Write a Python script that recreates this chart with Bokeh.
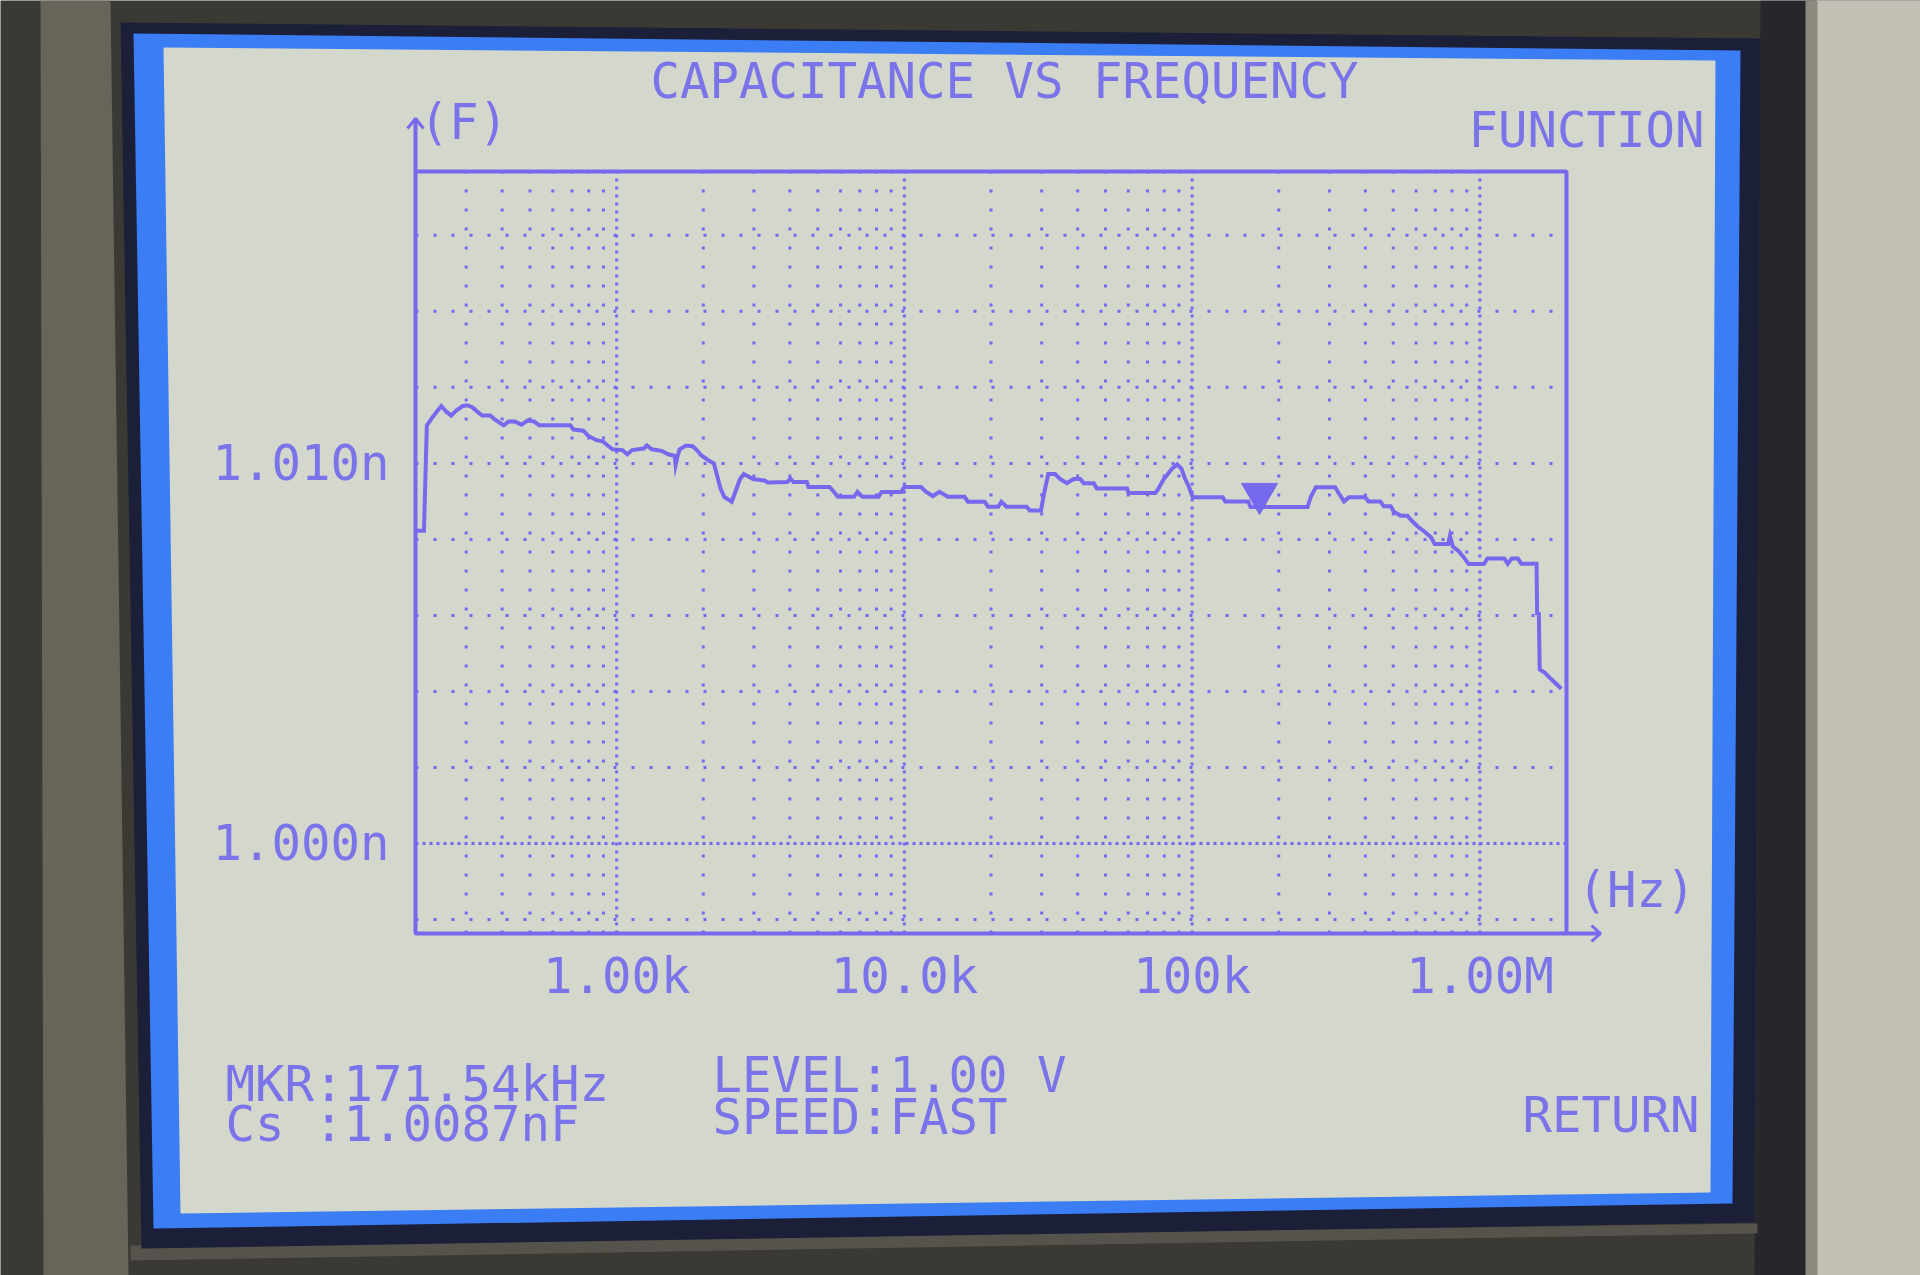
from bokeh.plotting import figure
from bokeh.models import Range1d, LinearScale
from bokeh.core.properties import value
from bokeh.embed import file_html
from bokeh.resources import INLINE

# ------------------------------------------------------------------ data
freq_hz = [200, 214, 219, 222, 228, 237, 246, 256, 266, 277,
           292, 303, 316, 328, 341, 364, 378, 405, 421, 443,
           467, 492, 518, 538, 690, 708, 766, 796, 851, 895,
           931, 968,
           1047, 1089, 1132, 1242, 1274, 1324, 1432, 1510, 1592, 1603,
           1629, 1656, 1742, 1837, 1910, 1963, 2094, 2178, 2234, 2296,
           2366, 2512, 2612, 2685, 2767, 2979, 3266, 3350,
           3917, 4018, 4121, 4581, 4645, 5495, 5649, 5875, 6683, 6871,
           7145, 8128, 8337, 9750,
           10000, 11430, 11910, 12560, 13240, 14160, 16180, 16630, 19010, 19540,
           21180, 21730, 22650, 26610, 27290, 29850, 30410, 31620, 33420, 34750,
           36730, 38730, 40830, 41980, 45500, 46670, 59430,
           60120, 74470, 76560, 79620, 85110, 88720, 91830, 94190, 97270,
           100500, 127600, 130300, 156700, 159600, 251800, 258800, 269200, 314100, 322800,
           337300, 350800, 399000, 410200, 450800, 463400, 489800, 502300, 530900, 559800,
           583400, 608100, 642700, 677500, 696600, 776200, 787000, 805400, 841400, 877000,
           914100,
           1033000, 1062000, 1216000, 1250000, 1291000, 1355000, 1393000, 1574000, 1581000, 1603000,
           1614000, 1683000, 1754000, 1828000, 1919000]

cap_nf = [1.00823, 1.00823, 1.01100, 1.01106, 1.01119, 1.01136, 1.01151, 1.01136, 1.01126, 1.01139,
          1.01151, 1.01153, 1.01147, 1.01136, 1.01126, 1.01126, 1.01115, 1.01100, 1.01110, 1.01110,
          1.01102, 1.01113, 1.01110, 1.01100, 1.01100, 1.01089, 1.01086, 1.01073, 1.01061, 1.01058,
          1.01047, 1.01037,
          1.01035, 1.01024, 1.01035, 1.01039, 1.01047, 1.01037, 1.01033, 1.01024, 1.01020, 1.00996,
          1.01020, 1.01037, 1.01047, 1.01045, 1.01033, 1.01022, 1.01007, 1.01000, 1.00968, 1.00934,
          1.00912, 1.00899, 1.00934, 1.00959, 1.00972, 1.00959, 1.00955, 1.00950,
          1.00951, 1.00960, 1.00951, 1.00951, 1.00938, 1.00938, 1.00928, 1.00912, 1.00912, 1.00925,
          1.00912, 1.00912, 1.00925, 1.00925,
          1.00938, 1.00938, 1.00925, 1.00914, 1.00925, 1.00912, 1.00912, 1.00899, 1.00899, 1.00886,
          1.00886, 1.00899, 1.00886, 1.00886, 1.00876, 1.00876, 1.00912, 1.00972, 1.00972, 1.00959,
          1.00948, 1.00959, 1.00959, 1.00948, 1.00948, 1.00934, 1.00934,
          1.00922, 1.00922, 1.00935, 1.00958, 1.00986, 1.00997, 1.00986, 1.00962, 1.00940,
          1.00911, 1.00911, 1.00900, 1.00900, 1.00885, 1.00885, 1.00913, 1.00937, 1.00937, 1.00922,
          1.00900, 1.00911, 1.00911, 1.00900, 1.00900, 1.00887, 1.00887, 1.00873, 1.00862, 1.00862,
          1.00847, 1.00834, 1.00820, 1.00805, 1.00788, 1.00788, 1.00809, 1.00781, 1.00770, 1.00754,
          1.00735,
          1.00735, 1.00750, 1.00750, 1.00736, 1.00750, 1.00750, 1.00736, 1.00736, 1.00605, 1.00604,
          1.00458, 1.00449, 1.00435, 1.00422, 1.00407]

marker_freq_hz = [171540]
marker_cs_nf = [1.0087]

x_min_hz, x_max_hz = 200, 2000000          # plot box extent
y_min_nf, y_max_nf = 0.99763, 1.01768

x_ticks = [1000, 10000, 100000, 1000000]
x_tick_labels = ["1.00k", "10.0k", "100k", "1.00M"]
x_minor_grid = [300, 400, 500, 600, 700, 800, 900,
                2000, 3000, 4000, 5000, 6000, 7000, 8000, 9000,
                20000, 30000, 40000, 50000, 60000, 70000, 80000, 90000,
                200000, 300000, 400000, 500000, 600000, 700000, 800000, 900000]
y_ticks = [1.000, 1.010]
y_tick_labels = ["1.000n", "1.010n"]
y_grid = [0.998, 1.002, 1.004, 1.006, 1.008, 1.010, 1.012, 1.014, 1.016]
y_grid_dense = [1.000]

title_text = "CAPACITANCE VS FREQUENCY"
y_unit_text = "(F)"
x_unit_text = "(Hz)"
function_text = "FUNCTION"
return_text = "RETURN"
mkr_text = "MKR:171.54kHz"
cs_text = "Cs :1.0087nF"
level_text = "LEVEL:1.00 V"
speed_text = "SPEED:FAST"

# ------------------------------------------------------------------ style / layout
W, H = 1920, 1275
BL, BR, BT, BB = 415, 1566, 171, 933      # plot box edges on the canvas (px)

PALE = "#d4d7cc"
LINE = "#7669ee"
TEXT = "#7b73e9"
BLUE = "#3b7df4"
HALO = "#1c1f38"
BEZEL = "#3a3934"
STRIP = "#67645a"
RIGHT_DARK = "#27272b"
CASING = "#c4bfb4"
BAND = "#55534c"
FONT = "DejaVu Sans Mono"
FS = "49px"

# the frame fills the whole canvas; the plot box is placed by range padding
decade_px = (BR - BL) / 4.0
x_start = x_min_hz * 10 ** (-BL / decade_px)
x_end = x_max_hz * 10 ** ((W - BR) / decade_px)
nf_per_px = (y_max_nf - y_min_nf) / (BB - BT)
y_end = y_max_nf + BT * nf_per_px
y_start = y_min_nf - (H - BB) * nf_per_px

p = figure(width=W, height=H, x_axis_type="log", x_axis_location=None, y_axis_location=None,
           x_range=Range1d(x_start, x_end), y_range=Range1d(y_start, y_end),
           extra_x_ranges={"px": Range1d(0, W)}, extra_y_ranges={"px": Range1d(H, 0)},
           extra_x_scales={"px": LinearScale()}, extra_y_scales={"px": LinearScale()},
           output_backend="svg", toolbar_location=None, min_border=0)
p.title.visible = False
p.border_fill_color = BEZEL
p.background_fill_color = BEZEL
p.outline_line_color = None
p.grid.visible = False

PX = dict(x_range_name="px", y_range_name="px")

# ---------------------------------------------------------- bezel / screen
def patch(xs, ys, color):
    p.patch(xs, ys, fill_color=color, line_color=None, **PX)

patch([40, 110, 128, 43], [0, 0, H, H], STRIP)
patch([1760, 1815, 1815, 1754], [0, 0, H, H], RIGHT_DARK)
patch([1815, W, W, 1815], [0, 0, H, H], CASING)
patch([1805, 1817, 1817, 1805], [0, 0, H, H], "#8d897f")
patch([130, 1757, 1757, 130], [1245, 1223, 1233, 1260], BAND)
patch([120, 1760, 1754, 141], [22, 38, 1222, 1248], HALO)
patch([133, 1740, 1732, 153], [33, 50, 1203, 1228], BLUE)
patch([163, 1715, 1710, 180], [47, 60, 1192, 1213], PALE)

# ------------------------------------------------------------------ grid (inside the box)
def vgrid(ticks, dash):
    n = len(ticks)
    p.segment(x0=ticks, y0=[y_min_nf] * n, x1=ticks, y1=[y_max_nf] * n,
              line_color=LINE, line_width=3, line_dash=dash)

def hgrid(ticks, dash):
    n = len(ticks)
    p.segment(x0=[x_min_hz] * n, y0=ticks, x1=[x_max_hz] * n, y1=ticks,
              line_color=LINE, line_width=3, line_dash=dash)

vgrid(x_minor_grid, "3 16")
vgrid(x_ticks, "3 5")
hgrid(y_grid, "3 15")
hgrid(y_grid_dense, "3 4")

# plot box / axes lines
p.quad(left=[x_min_hz], right=[x_max_hz], bottom=[y_min_nf], top=[y_max_nf],
       fill_color=None, line_color=LINE, line_width=4)

# axis arrows
p.segment(x0=[BL, BR], y0=[BT, BB], x1=[BL, 1600], y1=[118, BB],
          line_color=LINE, line_width=4, **PX)
p.multi_line(xs=[[BL - 8, BL, BL + 8], [1591, 1600, 1591]],
             ys=[[128, 118, 128], [BB - 8, BB, BB + 8]],
             line_color=LINE, line_width=3, **PX)

# ------------------------------------------------------------------ tick labels
p.text(x=x_ticks, y=[y_min_nf] * len(x_ticks), text=x_tick_labels,
       text_font=value(FONT), text_font_size=value(FS), text_color=TEXT,
       text_align="center", text_baseline="middle", y_offset=43)
p.text(x=[x_min_hz] * len(y_ticks), y=y_ticks, text=y_tick_labels,
       text_font=value(FONT), text_font_size=value(FS), text_color=TEXT,
       text_align="right", text_baseline="middle", x_offset=-26)

# ------------------------------------------------------------------ data trace
p.line(freq_hz, cap_nf, line_color=LINE, line_width=4, line_join="miter")
p.scatter(marker_freq_hz, [marker_cs_nf[0] + 0.0005], marker="inverted_triangle",
          size=36, fill_color=LINE, line_color=LINE)

# ------------------------------------------------------------------ screen texts
def texts(xs, ys, strs, align):
    p.text(x=xs, y=ys, text=strs, text_font=value(FONT), text_font_size=value(FS),
           text_color=TEXT, text_align=align, text_baseline="middle", **PX)

texts([1004], [81], [title_text], "center")
texts([419, 1577, 225, 225, 712, 712], [122, 890, 1084, 1124, 1075, 1117],
      [y_unit_text, x_unit_text, mkr_text, cs_text, level_text, speed_text], "left")
texts([1704, 1699], [130, 1115], [function_text, return_text], "right")

open("out.html", "w").write(file_html(p, INLINE))
